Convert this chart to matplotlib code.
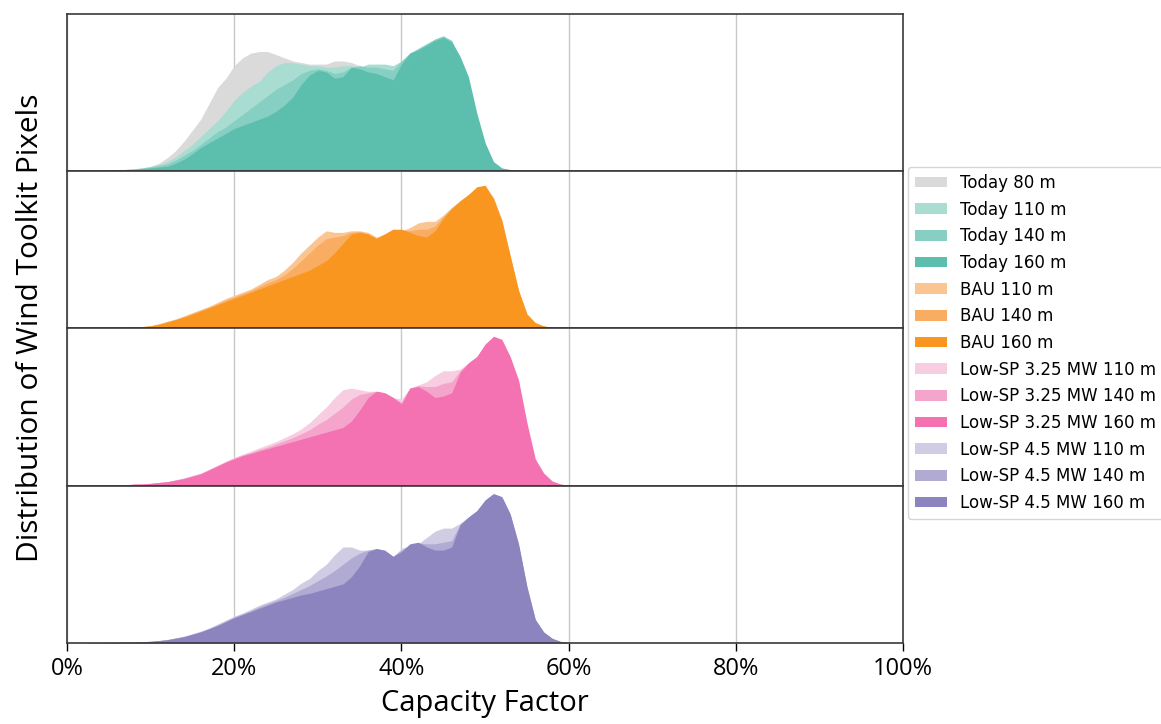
import matplotlib
matplotlib.use("Agg")
import matplotlib.pyplot as plt
from matplotlib.patches import Patch
from matplotlib.ticker import PercentFormatter

# capacity factor bins (%)
cf = [2, 3, 4, 5, 6, 7, 8, 9, 10, 11, 12, 13, 14, 15, 16, 17, 18, 19, 20,
      21, 22, 23, 24, 25, 26, 27, 28, 29, 30, 31, 32, 33, 34, 35, 36, 37, 38,
      39, 40, 41, 42, 43, 44, 45, 46, 47, 48, 49, 50, 51, 52, 53, 54, 55, 56,
      57, 58, 59, 60]

# relative pixel density per bin (% of panel height)
today_80 = [0, 0.3, 0.5, 0.5, 1, 1, 1.5, 2, 3, 5, 8.5, 13, 19, 26, 33, 43, 53, 59, 67,
            72, 75, 76, 76, 74, 72, 70, 69, 68, 68, 68, 70, 70, 69, 67, 65, 62, 58,
            55, 52, 50, 48, 45, 42, 38, 33, 25, 15, 7, 3, 1, 0.5, 0.3, 0.2, 0, 0,
            0, 0, 0, 0]
today_110 = [0, 0.3, 0.5, 0.5, 1, 1, 1.5, 2, 3, 4, 6, 9, 13, 17, 22, 27, 32, 38, 45,
             50, 54, 57, 63, 67, 69, 69, 68, 67, 67, 66, 66, 67, 67, 66, 68, 68, 68,
             67, 70, 74, 77, 80, 83, 84, 80, 68, 50, 27, 10, 3, 1, 0.5, 0.3, 0.2, 0,
             0, 0, 0, 0]
today_140 = [0, 0.2, 0.5, 0.5, 0.8, 1, 1.2, 1.8, 2.5, 3.5, 4.5, 7, 10, 13, 17, 21, 25, 28, 32,
             36, 40, 44, 48, 52, 55, 58, 62, 64, 65, 64, 62, 63, 66, 67, 66, 66, 65,
             64, 70, 75, 78, 81, 84, 86, 83, 72, 55, 32, 12, 4, 1.5, 0.8, 0.4, 0.2, 0,
             0, 0, 0, 0]
today_160 = [0, 0.2, 0.5, 0.5, 0.5, 1, 1, 1.5, 2, 2.5, 3, 5, 7.5, 11, 15, 18, 21, 24, 27,
             29, 31, 33, 35, 38, 42, 47, 55, 61, 64, 63, 59, 60, 66, 65, 63, 62, 60,
             58, 68, 75, 77, 80, 83, 85, 82, 73, 60, 37, 18, 6, 2, 1, 0.5, 0.3, 0.2,
             0, 0, 0, 0]

bau_110 = [0, 0.2, 0.3, 0.5, 0.5, 0.7, 1, 1.2, 1.8, 3, 4.5, 6, 8, 10, 12, 14, 16.5, 19, 21,
           23, 25, 28, 31, 33, 37, 42, 48, 53, 58, 62, 61, 61, 62, 62, 61, 58, 60,
           63, 62, 64, 67, 68, 68, 72, 77, 81, 85, 89, 90, 83, 68, 45, 23, 9, 3.5,
           1.5, 0.7, 0.3, 0]
bau_140 = [0, 0.2, 0.3, 0.5, 0.5, 0.6, 1, 1.1, 1.6, 2.7, 4.2, 5.7, 7.5, 9.5, 11.5, 13.5, 15.7, 18, 20,
           22, 24, 26.5, 29, 31, 34, 38, 43, 48, 53, 57, 58, 59, 61, 61.5, 60, 57.5, 60,
           63, 62.5, 62, 63, 63, 65, 71, 76.5, 81, 85, 89.5, 90.5, 83, 69, 46, 24, 9, 3.5,
           1.5, 0.7, 0.3, 0]
bau_160 = [0, 0.2, 0.3, 0.5, 0.5, 0.5, 1, 1, 1.5, 2.5, 4, 5.5, 7, 9, 11, 13, 15, 17, 19,
           21, 23, 25, 27, 29, 31, 33, 35, 37, 40, 43, 48, 54, 60, 61, 60, 57, 60,
           63, 63, 61, 59, 58, 62, 70, 76, 81, 85, 90, 91, 82, 68, 46, 24, 9, 3.5,
           1.5, 0.7, 0.3, 0]

lsp325_110 = [0, 0.2, 0.3, 0.4, 0.5, 0.6, 0.8, 1, 1.3, 2, 2.5, 3.7, 5, 6.5, 8, 10.5, 13, 15.5, 18,
              20, 22, 24, 26, 28, 30.5, 33, 36, 40, 45, 50, 56, 61, 62, 61, 60, 60, 59,
              56, 55, 62, 64, 66, 70, 73, 73, 74, 78, 82, 89, 93, 91, 80, 64, 35, 15,
              7, 2.5, 0.8, 0.2]
lsp325_140 = [0, 0.2, 0.3, 0.4, 0.5, 0.5, 0.9, 1, 1.4, 2, 2.5, 3.6, 4.7, 6.2, 7.7, 10.2, 12.7, 15.2, 17.5,
              19.5, 21, 23, 24.5, 26.5, 28.5, 30.5, 33, 35.5, 39, 42, 46, 50, 55, 58, 59, 60, 59,
              56, 53, 62, 63.5, 63, 63, 65, 66, 73, 78, 82, 89.5, 94, 92, 81, 65.5, 36.5, 15.5,
              7.5, 2.7, 0.9, 0.2]
lsp325_160 = [0, 0.3, 0.3, 0.5, 0.5, 0.5, 1, 1, 1.5, 2, 2.5, 3.5, 4.5, 6, 7.5, 10, 12.5, 15, 17,
              19, 20.5, 22, 23.5, 25, 26.5, 28, 29.5, 31, 32.5, 34, 35.5, 37, 41, 48, 56, 60, 59,
              56, 52, 62, 63, 60, 56, 57, 59, 72, 78, 82, 90, 95, 93, 82, 67, 40, 17,
              8, 3, 1, 0.3]

lsp45_110 = [0, 0.2, 0.2, 0.3, 0.4, 0.5, 0.6, 0.8, 1.1, 1.5, 2.2, 3.2, 4.3, 5.8, 7.5, 9.5, 12, 14.5, 17,
             19, 21.5, 24, 26, 28, 31, 34, 38, 41, 46, 50, 56, 61, 61, 59, 59, 59, 57,
             55, 60, 62, 63, 67, 71, 73, 73, 76, 80, 84, 90, 94, 92, 81, 61, 34, 14,
             6.5, 2.7, 0.9, 0.2]
lsp45_140 = [0, 0.2, 0.2, 0.3, 0.4, 0.5, 0.6, 0.8, 1, 1.5, 2.1, 3.1, 4.1, 5.6, 7.2, 9.2, 11.5, 14, 16.5,
             18.5, 20.5, 23, 25, 27, 29, 31.5, 34, 36.5, 39.5, 42.5, 46, 50, 54, 57, 59, 60, 58.5,
             55, 59, 62.5, 63.5, 63, 63, 64, 65, 75.5, 80, 84, 90.5, 94.5, 92.5, 81.5, 62, 35, 14.5,
             6.8, 2.8, 0.9, 0.2]
lsp45_160 = [0, 0.2, 0.2, 0.3, 0.3, 0.4, 0.5, 0.7, 1, 1.5, 2, 3, 4, 5.5, 7, 9, 11, 13.5, 16,
             18, 20, 22, 24, 26, 27.5, 29, 30.5, 31.5, 33, 34.5, 36, 37.5, 42, 49, 58, 60, 59,
             55, 58, 63, 64, 61, 59, 59, 61, 75, 80, 84, 91, 95, 93, 82, 63, 36, 15,
             7, 3, 1, 0.3]

panels = [
    [("Today 80 m", today_80, "#dadada"),
     ("Today 110 m", today_110, "#a9ddd2"),
     ("Today 140 m", today_140, "#86cfc2"),
     ("Today 160 m", today_160, "#5cbfae")],
    [("BAU 110 m", bau_110, "#fbc591"),
     ("BAU 140 m", bau_140, "#f9ad62"),
     ("BAU 160 m", bau_160, "#f8961f")],
    [("Low-SP 3.25 MW 110 m", lsp325_110, "#f8cde2"),
     ("Low-SP 3.25 MW 140 m", lsp325_140, "#f5a5cb"),
     ("Low-SP 3.25 MW 160 m", lsp325_160, "#f472b2")],
    [("Low-SP 4.5 MW 110 m", lsp45_110, "#d0cce4"),
     ("Low-SP 4.5 MW 140 m", lsp45_140, "#b1abd3"),
     ("Low-SP 4.5 MW 160 m", lsp45_160, "#8c84be")],
]

LABEL_FONT = "Open Sans"

fig, axes = plt.subplots(4, 1, figsize=(11.61, 7.24), dpi=100, sharex=True)
fig.subplots_adjust(left=0.0577, right=0.778, top=0.981, bottom=0.112, hspace=0)

handles = []
for ax, series in zip(axes, panels):
    for label, vals, color in series:
        ax.fill_between(cf, 0, vals, color=color, linewidth=0, zorder=2)
        handles.append(Patch(facecolor=color, label=label))
    ax.set_xlim(0, 100)
    ax.set_ylim(0, 100)
    ax.set_yticks([])
    ax.set_axisbelow(True)
    ax.grid(axis="x", color="#c8c8c8", linewidth=1.0)
    for sp in ax.spines.values():
        sp.set_color("#3a3a3a")
        sp.set_linewidth(1.2)
    ax.tick_params(axis="x", length=0)

axes[-1].set_xticks([0, 20, 40, 60, 80, 100])
axes[-1].xaxis.set_major_formatter(PercentFormatter(decimals=0))
axes[-1].tick_params(axis="x", length=6, width=1.0, labelsize=17, pad=4)
for t in axes[-1].get_xticklabels():
    t.set_fontfamily(LABEL_FONT)
axes[-1].set_xlabel("Capacity Factor", fontsize=21, labelpad=6, fontfamily=LABEL_FONT)

fig.text(0.026, 0.547, "Distribution of Wind Toolkit Pixels", rotation=90,
         fontsize=21.5, ha="center", va="center", fontfamily=LABEL_FONT)

fig.legend(handles=handles, loc="upper left", bbox_to_anchor=(0.782, 0.769),
           fontsize=12, labelspacing=0.52, handlelength=1.95, handleheight=0.6,
           frameon=True, borderaxespad=0)

fig.savefig("out.png", dpi=100)
